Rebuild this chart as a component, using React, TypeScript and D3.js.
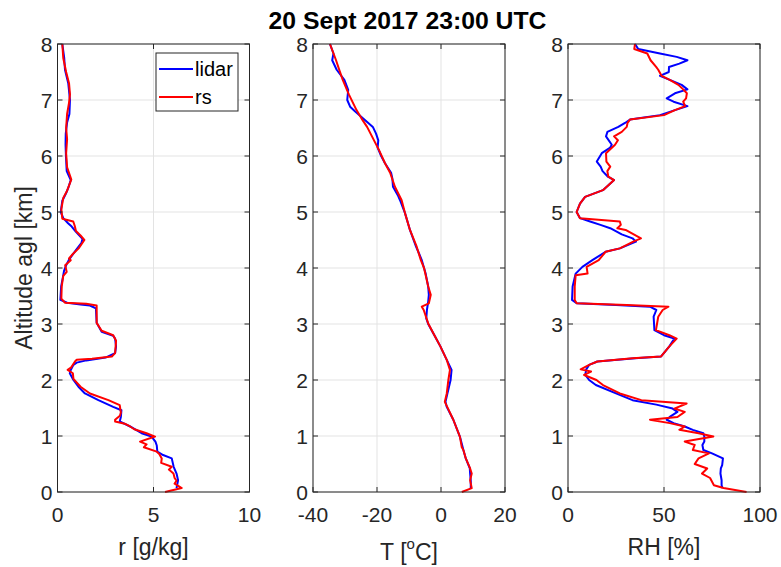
import React from "react";
import * as d3 from "d3";

// ---------- data: [value, altitude km] ----------
const rLidar: [number, number][] = [[0.25,8],[0.35,7.75],[0.39,7.54],[0.56,7.3],[0.65,7.0],[0.62,6.75],[0.5,6.6],[0.43,6.4],[0.42,6.2],[0.44,6.0],[0.48,5.73],[0.69,5.57],[0.55,5.42],[0.44,5.33],[0.25,5.2],[0.17,5.0],[0.3,4.89],[0.55,4.8],[0.74,4.74],[0.95,4.65],[1.3,4.52],[1.25,4.45],[0.96,4.32],[0.6,4.15],[0.45,4.05],[0.4,4.0],[0.34,3.95],[0.29,3.85],[0.19,3.67],[0.15,3.43],[0.5,3.38],[1.2,3.35],[1.69,3.33],[2.0,3.28],[2.04,3.02],[2.3,2.86],[2.9,2.79],[3.0,2.74],[3.05,2.6],[3.0,2.48],[2.5,2.4],[1.5,2.35],[1.0,2.31],[0.83,2.27],[0.69,2.18],[0.64,2.12],[0.83,2.0],[1.09,1.88],[1.43,1.76],[2.13,1.64],[2.9,1.52],[3.33,1.46],[3.3,1.34],[3.24,1.26],[3.78,1.17],[4.38,1.05],[4.9,0.99],[5.1,0.9],[5.17,0.83],[5.2,0.72],[5.5,0.66],[5.95,0.6],[6.05,0.45],[6.2,0.33],[6.28,0.21],[6.2,0.07]];
const rRs: [number, number][] = [[0.25,8],[0.3,7.75],[0.45,7.5],[0.6,7.3],[0.65,7.1],[0.6,6.95],[0.5,6.75],[0.45,6.5],[0.5,6.3],[0.45,6.05],[0.5,5.8],[0.72,5.58],[0.5,5.38],[0.3,5.25],[0.2,5.05],[0.25,4.88],[0.82,4.83],[0.9,4.75],[0.96,4.66],[1.2,4.58],[1.4,4.5],[1.1,4.35],[0.8,4.25],[0.6,4.17],[0.69,4.14],[0.4,4.05],[0.48,3.93],[0.3,3.86],[0.22,3.67],[0.2,3.45],[0.4,3.38],[1.5,3.36],[2.04,3.33],[2.04,3.02],[2.3,2.88],[2.9,2.8],[3.05,2.7],[3.0,2.48],[2.83,2.42],[1.8,2.38],[1.0,2.36],[0.91,2.33],[0.7,2.22],[0.53,2.18],[0.8,2.12],[0.83,2.02],[1.2,1.88],[1.69,1.76],[2.65,1.64],[3.24,1.55],[3.3,1.42],[3.25,1.36],[3.0,1.29],[3.0,1.26],[3.5,1.22],[3.78,1.17],[4.0,1.12],[4.64,1.05],[5.08,0.99],[4.3,0.9],[4.64,0.85],[4.5,0.8],[5.17,0.72],[5.3,0.68],[5.43,0.6],[5.4,0.52],[5.95,0.45],[5.8,0.4],[6.04,0.33],[6.1,0.25],[6.2,0.2],[6.1,0.15],[6.47,0.07],[5.6,0.0]];

const tLidar: [number, number][] = [[-34.7,8],[-33.6,7.83],[-34.0,7.71],[-32.6,7.54],[-30.2,7.36],[-29.0,7.18],[-29.3,7.0],[-28.4,6.88],[-26.9,6.8],[-23.7,6.64],[-21.3,6.52],[-20.3,6.4],[-19.6,6.28],[-19.8,6.15],[-18.7,6.0],[-17.5,5.87],[-15.6,5.7],[-15.2,5.6],[-15.0,5.45],[-13.5,5.3],[-12.8,5.21],[-11.25,4.98],[-9.7,4.68],[-7.8,4.38],[-6.8,4.25],[-6.0,4.14],[-5.3,4.0],[-4.8,3.9],[-4.0,3.67],[-3.8,3.52],[-4.0,3.4],[-4.4,3.25],[-4.6,3.1],[-4.0,3.0],[-1.9,2.78],[-0.2,2.6],[1.8,2.36],[3.3,2.18],[3.0,2.0],[2.0,1.76],[1.4,1.61],[1.8,1.52],[3.85,1.29],[5.9,0.99],[7.0,0.75],[7.75,0.6],[9.0,0.42],[9.1,0.33],[9.3,0.2],[9.3,0.07]];
const tRs: [number, number][] = [[-34.7,8],[-32.8,7.71],[-31.8,7.54],[-30.7,7.36],[-28.8,7.1],[-26.4,6.82],[-24.5,6.64],[-23.1,6.52],[-19.4,6.11],[-17.5,5.87],[-15.9,5.7],[-14.4,5.45],[-12.3,5.21],[-11.25,4.98],[-9.7,4.68],[-7.6,4.38],[-6.3,4.14],[-5.3,4.0],[-4.5,3.8],[-4.0,3.67],[-3.2,3.52],[-3.8,3.37],[-6.0,3.31],[-5.4,3.25],[-4.0,3.01],[-1.9,2.78],[-0.2,2.6],[1.8,2.36],[2.8,2.18],[2.3,2.0],[1.8,1.76],[1.2,1.61],[3.85,1.29],[5.9,0.99],[6.5,0.8],[7.0,0.75],[7.75,0.6],[9.1,0.42],[9.6,0.33],[9.1,0.21],[9.6,0.07],[6.5,0.0]];

const rhLidar: [number, number][] = [[34.9,8],[36.6,7.91],[47.9,7.83],[56.6,7.77],[62.2,7.71],[58,7.65],[52.6,7.59],[52.5,7.5],[47.9,7.43],[53,7.36],[59.2,7.27],[62.2,7.19],[55.7,7.12],[51.4,7.03],[55,6.97],[62.2,6.89],[55.7,6.82],[47.9,6.73],[32.3,6.65],[29.7,6.59],[26.2,6.52],[20.5,6.43],[19.8,6.35],[22.8,6.2],[22,6.15],[17.6,6.05],[15,5.9],[17,5.81],[18,5.73],[20.8,5.63],[24,5.57],[18.2,5.39],[8.9,5.27],[6.25,5.15],[4.5,5.0],[6.25,4.89],[11.5,4.83],[16.9,4.77],[22,4.71],[28,4.6],[33.6,4.53],[35.4,4.47],[27,4.35],[19.6,4.29],[12.7,4.14],[7.5,4.02],[4,3.9],[2.4,3.67],[2.1,3.43],[4.5,3.37],[25,3.34],[42.7,3.31],[46,3.25],[44.6,3.13],[45,2.89],[50,2.8],[55.4,2.74],[52.8,2.6],[48.5,2.42],[35,2.39],[15.3,2.33],[11,2.27],[9.5,2.19],[9,2.09],[11,2.0],[14.5,1.91],[25,1.76],[33.6,1.64],[46,1.56],[54.5,1.49],[57,1.43],[53,1.34],[51.4,1.29],[55,1.23],[60.8,1.17],[65,1.11],[70.5,1.05],[71,0.99],[71,0.9],[70,0.84],[70.5,0.75],[75,0.69],[80.7,0.6],[80.3,0.48],[79.6,0.42],[79.4,0.33],[80,0.21],[80,0.12],[80.5,0.07]];
const rhRs: [number, number][] = [[34.9,8],[34.5,7.91],[41.3,7.83],[43,7.71],[45.9,7.59],[47,7.54],[48.8,7.43],[53,7.36],[57.5,7.27],[60,7.19],[61.9,7.12],[61.5,7.03],[60,6.97],[61,6.89],[55.7,6.82],[50,6.73],[32.3,6.65],[31,6.59],[30.6,6.52],[28,6.43],[24,6.35],[26,6.28],[24.5,6.2],[19.8,6.05],[20,5.9],[22,5.81],[20.5,5.73],[21,5.63],[24,5.57],[18.2,5.39],[8.9,5.27],[6.25,5.15],[4.5,5.0],[6.25,4.89],[27,4.83],[27.5,4.77],[25.7,4.71],[30,4.68],[38,4.53],[34,4.47],[27,4.35],[19.6,4.29],[16,4.14],[9.7,4.02],[10.2,3.9],[4,3.87],[3.5,3.67],[3.5,3.43],[4.5,3.37],[30.6,3.34],[52.3,3.31],[49.3,3.25],[47,3.13],[45.8,2.89],[52.8,2.8],[56.6,2.74],[52.8,2.6],[48.5,2.42],[33.6,2.39],[15.3,2.33],[11,2.27],[6.6,2.19],[12,2.15],[8.4,2.09],[14.8,2.0],[18.2,1.91],[27,1.76],[38.2,1.64],[61.8,1.58],[55.4,1.49],[60.8,1.43],[57,1.34],[42.7,1.29],[53,1.23],[60.8,1.17],[58,1.11],[68,1.05],[75.7,0.99],[60.8,0.9],[66,0.84],[65,0.75],[73.4,0.69],[68,0.6],[66,0.5],[72.5,0.42],[69.8,0.33],[74,0.25],[76,0.12],[81,0.07],[93,0.0]];

const altTicks = [0, 1, 2, 3, 4, 5, 6, 7, 8];
const rTicks = [0, 5, 10];
const tTicks = [-40, -20, 0, 20];
const rhTicks = [0, 50, 100];
const titleText = "20 Sept 2017 23:00 UTC";
const seriesNames = ["lidar", "rs"];

const FONT = "'Liberation Sans', Arial, Helvetica, sans-serif";
const AX = "#262626";
const BLUE = "#0000ff";
const RED = "#ff0000";

const top = 44, bottom = 492;
const yScale = d3.scaleLinear().domain([0, 8]).range([bottom, top]);

type PanelProps = {
  left: number;
  right: number;
  domain: [number, number];
  ticks: number[];
  lidar: [number, number][];
  rs: [number, number][];
  label: React.ReactNode;
  labelY: number;
  showLegend?: boolean;
};

function Panel({ left, right, domain, ticks, lidar, rs, label, labelY, showLegend }: PanelProps) {
  const x = d3.scaleLinear().domain(domain).range([left, right]);
  const line = d3
    .line<[number, number]>()
    .x((d) => x(d[0]))
    .y((d) => yScale(d[1]));
  const tl = 5;
  return (
    <g>
      <rect x={left} y={top} width={right - left} height={bottom - top} fill="#fff" />
      {ticks.map((t) => (
        <line key={"gx" + t} x1={x(t)} x2={x(t)} y1={top} y2={bottom} stroke="#e3e3e3" strokeWidth={1} />
      ))}
      {altTicks.map((t) => (
        <line key={"gy" + t} x1={left} x2={right} y1={yScale(t)} y2={yScale(t)} stroke="#e3e3e3" strokeWidth={1} />
      ))}
      <path d={line(lidar) || ""} fill="none" stroke={BLUE} strokeWidth={2} strokeLinejoin="round" />
      <path d={line(rs) || ""} fill="none" stroke={RED} strokeWidth={2} strokeLinejoin="round" />
      {ticks.map((t) => (
        <g key={"tx" + t}>
          <line x1={x(t)} x2={x(t)} y1={bottom} y2={bottom - tl} stroke={AX} />
          <line x1={x(t)} x2={x(t)} y1={top} y2={top + tl} stroke={AX} />
          <text x={x(t)} y={bottom + 29.5} textAnchor="middle" fontSize={21} fill={AX} fontFamily={FONT}>
            {t}
          </text>
        </g>
      ))}
      {altTicks.map((t) => (
        <g key={"ty" + t}>
          <line x1={left} x2={left + tl} y1={yScale(t)} y2={yScale(t)} stroke={AX} />
          <line x1={right} x2={right - tl} y1={yScale(t)} y2={yScale(t)} stroke={AX} />
          <text x={left - 5} y={yScale(t) + 8} textAnchor="end" fontSize={21} fill={AX} fontFamily={FONT}>
            {t}
          </text>
        </g>
      ))}
      <rect x={left} y={top} width={right - left} height={bottom - top} fill="none" stroke={AX} strokeWidth={1} />
      <text x={(left + right) / 2} y={labelY} textAnchor="middle" fontSize={23} fill={AX} fontFamily={FONT}>
        {label}
      </text>
      {showLegend && (
        <g>
          <rect x={156} y={53} width={82} height={58} fill="#fff" stroke={AX} strokeWidth={1} />
          {seriesNames.map((n, i) => (
            <g key={n}>
              <line x1={159} x2={193} y1={69 + i * 28} y2={69 + i * 28} stroke={i === 0 ? BLUE : RED} strokeWidth={2} />
              <text x={195} y={69 + i * 28 + 7} fontSize={20} fill="#000" fontFamily={FONT}>
                {n}
              </text>
            </g>
          ))}
        </g>
      )}
    </g>
  );
}

export default function App() {
  return (
    <div style={{ position: "absolute", left: 0, top: 0 }}>
      <svg width={781} height={567} style={{ display: "block", background: "#fff" }}>
        <rect width={781} height={567} fill="#fff" />
        <text x={407.5} y={29} textAnchor="middle" fontSize={23} fontWeight="bold" fill="#000" fontFamily={FONT}
          textLength={278} lengthAdjust="spacingAndGlyphs">
          {titleText}
        </text>
        <text
          transform={`translate(31.5, ${(top + bottom) / 2}) rotate(-90)`}
          textAnchor="middle"
          fontSize={23}
          fill={AX}
          fontFamily={FONT}
        >
          Altitude agl [km]
        </text>
        <Panel left={57.5} right={249.5} domain={[0, 10]} ticks={rTicks} lidar={rLidar} rs={rRs} label="r [g/kg]" labelY={555} showLegend />
        <Panel
          left={313}
          right={505}
          domain={[-40, 20]}
          ticks={tTicks}
          lidar={tLidar}
          rs={tRs}
          label={
            <>
              T [<tspan dy={-11} fontSize={15}>o</tspan>
              <tspan dy={11}>C]</tspan>
            </>
          }
          labelY={560}
        />
        <Panel left={568} right={760} domain={[0, 100]} ticks={rhTicks} lidar={rhLidar} rs={rhRs} label="RH [%]" labelY={555} />
      </svg>
    </div>
  );
}
